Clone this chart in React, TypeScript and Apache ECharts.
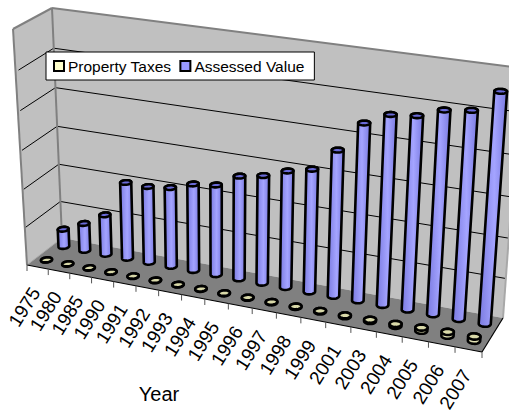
import React, { useEffect, useRef } from "react";
import * as echarts from "echarts";

const categories = ["1975","1980","1985","1990","1991","1992","1993","1994","1995","1996","1997","1998","1999","2001","2003","2004","2005","2006","2007"];
const propertyTaxes = [500,600,700,800,900,1000,1000,1100,1200,1300,1500,1600,2000,2500,3500,5000,8000,9500,10500];
const assessedValue = [47000,72700,106000,201000,200000,207000,226000,233000,265000,276000,297000,311000,367000,441000,470000,476000,498000,506000,558000];
const valueTicks = [0,100000,200000,300000,400000,500000,600000];
const seriesNames = ["Property Taxes","Assessed Value"];
const axisTitle = "Year";

type P = [number, number];
const W = 509, H = 412, VMAX = 600000;

function homography(p0: P, p1: P, p2: P, p3: P) {
  const dx1 = p1[0]-p2[0], dx2 = p3[0]-p2[0], sx = p0[0]-p1[0]+p2[0]-p3[0];
  const dy1 = p1[1]-p2[1], dy2 = p3[1]-p2[1], sy = p0[1]-p1[1]+p2[1]-p3[1];
  const den = dx1*dy2-dx2*dy1;
  const g = (sx*dy2-dx2*sy)/den, h = (dx1*sy-sx*dy1)/den;
  const a = p1[0]-p0[0]+g*p1[0], b = p3[0]-p0[0]+h*p3[0], c = p0[0];
  const d = p1[1]-p0[1]+g*p1[1], e = p3[1]-p0[1]+h*p3[1], f = p0[1];
  return (u: number, v: number): P => {
    const w = g*u+h*v+1;
    return [(a*u+b*v+c)/w, (d*u+e*v+f)/w];
  };
}

const FL: P = [27,265], FR: P = [482,352], BL: P = [62,238], BR: P = [503,318], TL: P = [52,8], TR: P = [521,68], FT: P = [13,29];
const floorH = homography(FL, FR, BR, BL);
const backH = homography(BL, BR, TR, TL);
const frontScale = Math.hypot(FT[0]-FL[0], FT[1]-FL[1]) / Math.hypot(TL[0]-BL[0], TL[1]-BL[1]);

// u: along categories, d: depth (0 front, 1 back), v: height
function proj(u: number, d: number, v: number): P {
  const f = floorH(u, d);
  const b = backH(u, v), b0 = backH(u, 0);
  const s = frontScale + (1-frontScale)*d;
  return [f[0]+(b[0]-b0[0])*s, f[1]+(b[1]-b0[1])*s];
}

function circle(u: number, d: number, v: number, ru: number, rd: number): P[] {
  const out: P[] = [];
  for (let i = 0; i < 28; i++) {
    const t = i/28*Math.PI*2;
    out.push(proj(u+ru*Math.cos(t), d+rd*Math.sin(t), v));
  }
  return out;
}

function hull(pts: P[]): P[] {
  const s = [...pts].sort((a,b)=>a[0]-b[0]||a[1]-b[1]);
  const cr = (o:P,a:P,b:P)=>(a[0]-o[0])*(b[1]-o[1])-(a[1]-o[1])*(b[0]-o[0]);
  const lo:P[]=[], up:P[]=[];
  for (const p of s){ while(lo.length>1&&cr(lo[lo.length-2],lo[lo.length-1],p)<=0) lo.pop(); lo.push(p);}
  for (const p of s.slice().reverse()){ while(up.length>1&&cr(up[up.length-2],up[up.length-1],p)<=0) up.pop(); up.push(p);}
  return lo.slice(0,-1).concat(up.slice(0,-1));
}

function cylinderItem(depth: number, side: string, mid: string, cap: string) {
  return (params: any, api: any) => {
    const i = api.value(0), val = api.value(1);
    const base = api.coord([i, 0]), top = api.coord([i, val]);
    const u = base[0]/W;
    const v = (base[1]-top[1])/H;
    const ru = 0.22/categories.length, rd = 0.085;
    const bottom = circle(u, depth, 0, ru, rd);
    const upper = circle(u, depth, v, ru, rd);
    const grad = new echarts.graphic.LinearGradient(0,0,1,0,[
      {offset:0,color:side},{offset:0.55,color:mid},{offset:1,color:side}]);
    return {
      type: "group",
      children: [
        { type:"polygon", shape:{points:hull(bottom.concat(upper))}, style:{fill:grad, stroke:"#000", lineWidth:2.6} },
        { type:"polygon", shape:{points:upper}, style:{fill:cap, stroke:"#000", lineWidth:2.6} },
      ],
    };
  };
}

function frameItem(params: any, api: any) {
  const n = categories.length;
  const kids: any[] = [];
  const grey = "#808080";
  kids.push({type:"polygon",shape:{points:[BL,BR,TR,TL]},style:{fill:"#C0C0C0"}});
  kids.push({type:"polygon",shape:{points:[FL,BL,TL,FT]},style:{fill:"#C0C0C0"}});
  kids.push({type:"polygon",shape:{points:[FL,FR,BR,BL]},style:{fill:"#808080"}});
  const line = (a:P,b:P,stroke:string,w:number)=>({type:"line",shape:{x1:a[0],y1:a[1],x2:b[0],y2:b[1]},style:{stroke,lineWidth:w}});
  valueTicks.forEach((t)=>{
    if (t===0||t===VMAX) return;
    const y = api.coord([0,t])[1];
    const v = 1-y/H;
    kids.push(line(proj(0,0,v),proj(0,1,v),"#000",1));
    kids.push(line(proj(0,1,v),proj(1,1,v),"#000",1));
  });
  kids.push(line(TL,TR,grey,2));
  kids.push(line(TL,FT,grey,2));
  kids.push(line(TL,BL,grey,2));
  kids.push(line(FT,FL,grey,2));
  kids.push(line(BR,TR,"#a8a8a8",2));
  kids.push(line(FL,BL,"#a8a8a8",1));
  kids.push(line(FL,FR,"#000",1.2));
  kids.push(line(FR,BR,"#000",1.2));
  for (let i=0;i<=n;i++){
    const a = floorH(i/n,0);
    kids.push(line(a,[a[0],a[1]+6],"#555",1));
  }
  categories.forEach((c,i)=>{
    const a = floorH((i+0.5)/n,0);
    kids.push({type:"text",x:a[0]-2,y:a[1]+22,rotation:58*Math.PI/180,
      style:{text:c,fill:"#000",font:"19px 'Liberation Sans'",align:"right",verticalAlign:"middle"}});
  });
  return {type:"group",children:kids};
}

export default function App() {
  const ref = useRef<HTMLDivElement>(null);
  useEffect(() => {
    const chart = echarts.init(ref.current!, undefined, { renderer: "svg" });
    chart.setOption({
      animation: false,
      backgroundColor: "#fff",
      grid: { left: 0, top: 0, width: W, height: H },
      xAxis: { type: "category", data: categories, show: false },
      yAxis: { type: "value", min: 0, max: VMAX, interval: 100000, show: false },
      legend: {
        left: 46, top: 52, itemWidth: 10, itemHeight: 10, itemGap: 8,
        padding: [6,10,6,7], backgroundColor:"#fff", borderColor:"#000", borderWidth:1,
        data: seriesNames.map((name,i)=>({name,icon:"rect",
          itemStyle:{color:i===0?"#FFFFCC":"#9999FF",borderColor:"#000",borderWidth:2}})),
        textStyle:{fontFamily:"Liberation Sans",fontSize:15.5,color:"#000",padding:[0,0,0,-1]},
        selectedMode:false,
      },
      series: [
        { type:"custom", name:"frame", silent:true, z:1, data:[[0,0]], renderItem: frameItem, encode:{x:0,y:1} },
        { type:"custom", name:seriesNames[1], z:2, itemStyle:{color:"#9999FF"}, data:assessedValue.map((v,i)=>[i,v]),
          renderItem: cylinderItem(0.75,"#7a7ae0","#a4a4ff","#6a6ad8"), encode:{x:0,y:1} },
        { type:"custom", name:seriesNames[0], z:3, itemStyle:{color:"#FFFFCC"}, data:propertyTaxes.map((v,i)=>[i,v]),
          renderItem: cylinderItem(0.25,"#c8c8a0","#e8e8b8","#d8d8a8"), encode:{x:0,y:1} },
      ],
      graphic: [{ type:"text", x:159, y:394, z:10, style:{text:axisTitle,fill:"#000",font:"20px 'Liberation Sans'",align:"center",verticalAlign:"middle"} }],
    });
    return () => chart.dispose();
  }, []);
  return <div ref={ref} style={{ position:"absolute", left:0, top:0, width:W, height:H, overflow:"hidden" }} />;
}
